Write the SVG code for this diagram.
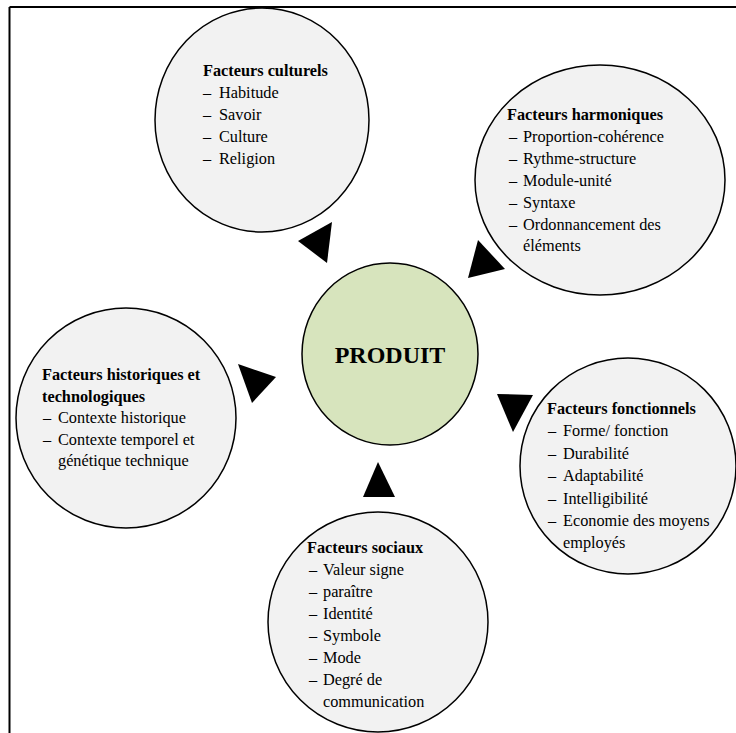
<svg xmlns="http://www.w3.org/2000/svg" width="736" height="733" viewBox="0 0 736 733">
<style>
.c{fill:#f2f2f2;stroke:#000;stroke-width:1.5}
.p{fill:#d7e4bd;stroke:#000;stroke-width:1.5}
text{font-family:"Liberation Serif","Times New Roman",serif;font-size:16.3px;fill:#000}
.b{font-weight:bold}
.t{fill:#000}
</style>
<rect width="736" height="733" fill="#fff"/>
<g id="frame" fill="none" stroke="#000" stroke-width="2">
<line x1="9.5" y1="7" x2="736" y2="7"/>
<line x1="9.5" y1="7" x2="9.5" y2="733"/>
</g>
<g id="connectors">
<polygon class="t" points="298,241 332,222 327,263"/>
<polygon class="t" points="468,278 478,240 505,269"/>
<polygon class="t" points="238,364 276,377 252,403"/>
<polygon class="t" points="497,394 533,395 513,432"/>
<polygon class="t" points="378,462 363,497 395,497"/>
</g>
<g id="culturels">
<ellipse class="c" cx="262" cy="120" rx="107" ry="112"/>
<text class="b" x="203" y="76">Facteurs culturels</text>
<text x="203" y="98">–</text><text x="219" y="98">Habitude</text>
<text x="203" y="120">–</text><text x="219" y="120">Savoir</text>
<text x="203" y="142">–</text><text x="219" y="142">Culture</text>
<text x="203" y="164">–</text><text x="219" y="164">Religion</text>
</g>
<g id="harmoniques">
<ellipse class="c" cx="600" cy="180" rx="125" ry="115"/>
<text class="b" x="507" y="119.5">Facteurs harmoniques</text>
<text x="509" y="141.5">–</text><text x="523" y="141.5">Proportion-cohérence</text>
<text x="509" y="163.5">–</text><text x="523" y="163.5">Rythme-structure</text>
<text x="509" y="185.5">–</text><text x="523" y="185.5">Module-unité</text>
<text x="509" y="207.5">–</text><text x="523" y="207.5">Syntaxe</text>
<text x="509" y="229.5">–</text><text x="523" y="229.5">Ordonnancement des</text>
<text x="523" y="251">éléments</text>
</g>
<g id="historiques">
<circle class="c" cx="126" cy="418" r="110"/>
<text class="b" x="42" y="380">Facteurs historiques et</text>
<text class="b" x="42" y="401.5">technologiques</text>
<text x="43" y="423">–</text><text x="58" y="423">Contexte historique</text>
<text x="43" y="444.5">–</text><text x="58" y="444.5">Contexte temporel et</text>
<text x="58" y="466">génétique technique</text>
</g>
<g id="produit">
<ellipse class="p" cx="390" cy="354" rx="88" ry="91"/>
<text class="b" x="390" y="363" text-anchor="middle" style="font-size:24px">PRODUIT</text>
</g>
<g id="fonctionnels">
<circle class="c" cx="628" cy="466" r="108"/>
<text class="b" x="547" y="413.5">Facteurs fonctionnels</text>
<text x="548" y="436">–</text><text x="563" y="436">Forme/ fonction</text>
<text x="548" y="458.5">–</text><text x="563" y="458.5">Durabilité</text>
<text x="548" y="481">–</text><text x="563" y="481">Adaptabilité</text>
<text x="548" y="503.5">–</text><text x="563" y="503.5">Intelligibilité</text>
<text x="548" y="526">–</text><text x="563" y="526">Economie des moyens</text>
<text x="563" y="548">employés</text>
</g>
<g id="sociaux">
<circle class="c" cx="378" cy="622" r="110"/>
<text class="b" x="307" y="552.5">Facteurs sociaux</text>
<text x="309" y="574.5">–</text><text x="323" y="574.5">Valeur signe</text>
<text x="309" y="596.5">–</text><text x="323" y="596.5">paraître</text>
<text x="309" y="618.5">–</text><text x="323" y="618.5">Identité</text>
<text x="309" y="640.5">–</text><text x="323" y="640.5">Symbole</text>
<text x="309" y="662.5">–</text><text x="323" y="662.5">Mode</text>
<text x="309" y="684.5">–</text><text x="323" y="684.5">Degré de</text>
<text x="323" y="706.5">communication</text>
</g>
</svg>
